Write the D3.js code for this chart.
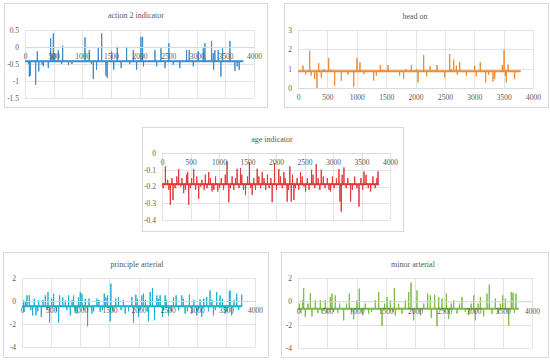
<!DOCTYPE html>
<html>
<head>
<meta charset="utf-8">
<script src="https://cdn.jsdelivr.net/npm/d3@7"></script>
<style>
  body { margin: 0; background: #fff; }
  text { font-family: "Liberation Serif", "DejaVu Serif", serif; fill: #595959; }
</style>
</head>
<body>
<div id="chart"></div>
<script>
// x ticks shared by every panel
const xTicks = [0, 500, 1000, 1500, 2000, 2500, 3000, 3500, 4000];

// action 2 indicator : flat level + spikes [index, value]
const a2Base = -0.42, a2End = 3812;
const a2Ticks = [0.5, 0, -0.5, -1, -1.5];
const a2Spikes = [[60,-0.5],[76,-0.87],[95,-0.84],[186,-1.11],[215,-0.13],[240,-0.72],[300,-0.52],[320,-0.57],
  [407,-0.62],[448,0.26],[470,-0.2],[495,0.4],[520,-0.18],[582,-0.09],[640,-0.5],[658,0.04],[760,-0.53],[820,-0.5],
  [1048,0.28],[1123,-0.09],[1160,-0.5],[1193,-0.94],[1250,-0.67],[1280,0],[1339,0.4],[1414,-0.85],[1436,-0.91],
  [1513,-0.13],[1550,-0.67],[1612,0.01],[1680,-0.62],[1775,0.01],[1830,-0.5],[1891,-0.09],[1950,-0.67],[2025,0.29],
  [2054,0.3],[2070,-0.57],[2270,-0.09],[2300,-0.57],[2375,-0.04],[2445,-0.62],[2514,0.11],[2590,-0.52],[2705,-0.62],
  [2823,-0.09],[2869,-0.09],[2940,-0.57],[3026,-0.13],[3114,-0.04],[3143,0.11],[3259,0.18],[3288,-0.18],[3295,-0.67],
  [3317,-0.09],[3375,-0.09],[3422,-0.87],[3450,-0.04],[3579,0.18],[3666,-0.7],[3707,-0.57],[3742,-0.67]];

// head on
const hoBase = 0.86, hoEnd = 3790;
const hoTicks = [0, 1, 2, 3];
const hoSpikes = [[85,1.16],[130,0.69],[199,1.93],[225,0.64],[284,0.47],[323,0.0],[352,1.28],[397,0.52],[443,0.98],
  [522,1.55],[560,0.95],[624,0.12],[738,0.38],[851,0.69],[948,0.07],[1004,1.55],[1055,1.33],[1120,0.72],[1288,0.38],
  [1333,0.64],[1401,1.19],[1440,0.95],[1532,1.19],[1730,0.64],[1798,0.47],[1833,0.98],[1929,1.19],[2015,0.98],
  [2043,0.29],[2139,1.71],[2190,0.6],[2247,1.12],[2366,1.19],[2497,0.55],[2582,1.76],[2610,0.98],[2650,1.47],
  [2695,1.16],[2712,0.69],[2752,1.33],[2866,0.64],[3007,1.16],[3035,0.6],[3103,1.33],[3194,0.29],[3245,0.69],
  [3319,0.33],[3348,0.47],[3478,1.19],[3507,1.97],[3530,0.64],[3546,0.29],[3575,1.21],[3688,0.47]];

// age indicator
const agBase = -0.186, agEnd = 3807;
const agTicks = [0, -0.1, -0.2, -0.3, -0.4];
const agSpikes = [[20,-0.21],[59,-0.08],[100,-0.16],[120,-0.22],[146,-0.31],[175,-0.15],[193,-0.28],[230,-0.21],
  [260,-0.14],[293,-0.096],[330,-0.2],[350,-0.15],[380,-0.24],[410,-0.22],[430,-0.13],[451,-0.114],[469,-0.31],
  [500,-0.21],[520,-0.15],[556,-0.096],[590,-0.22],[610,-0.14],[644,-0.274],[680,-0.2],[700,-0.16],[740,-0.22],
  [760,-0.13],[790,-0.21],[820,-0.114],[850,-0.15],[879,-0.23],[910,-0.22],[940,-0.14],[978,-0.23],[1010,-0.21],
  [1040,-0.15],[1080,-0.22],[1110,-0.13],[1142,-0.05],[1172,-0.294],[1200,-0.21],[1230,-0.14],[1260,-0.22],
  [1290,-0.15],[1318,-0.094],[1350,-0.21],[1377,-0.09],[1400,-0.13],[1430,-0.22],[1465,-0.25],[1500,-0.14],
  [1535,-0.056],[1560,-0.21],[1582,-0.25],[1610,-0.15],[1640,-0.22],[1670,-0.094],[1700,-0.14],[1730,-0.21],
  [1758,-0.114],[1790,-0.15],[1820,-0.22],[1850,-0.13],[1880,-0.21],[1910,-0.15],[1933,-0.294],[1974,-0.06],
  [2010,-0.22],[2050,-0.096],[2080,-0.14],[2110,-0.21],[2138,-0.114],[2160,-0.15],[2196,-0.29],[2220,-0.22],
  [2243,-0.08],[2267,-0.29],[2290,-0.13],[2314,-0.28],[2340,-0.21],[2370,-0.15],[2400,-0.22],[2431,-0.114],
  [2460,-0.14],[2490,-0.2],[2519,-0.23],[2550,-0.15],[2580,-0.22],[2624,-0.1],[2650,-0.13],[2680,-0.21],
  [2706,-0.066],[2740,-0.15],[2770,-0.22],[2794,-0.1],[2830,-0.14],[2860,-0.21],[2900,-0.15],[2930,-0.22],
  [2958,-0.23],[2990,-0.14],[3020,-0.21],[3060,-0.15],[3104,-0.096],[3122,-0.29],[3145,-0.35],[3160,-0.13],
  [3192,-0.086],[3230,-0.21],[3260,-0.15],[3309,-0.29],[3340,-0.22],[3380,-0.14],[3420,-0.21],[3456,-0.32],
  [3490,-0.15],[3520,-0.22],[3544,-0.11],[3580,-0.13],[3620,-0.21],[3661,-0.23],[3700,-0.14],[3740,-0.21],
  [3770,-0.15],[3790,-0.11]];

// principle arterial
const paBase = -0.46, paEnd = 3771;
const paTicks = [2, 0, -2, -4];
const paSpikes = [[29,0.06],[35,-0.96],[60,-0.1],[86,0.49],[126,0.49],[150,-0.8],[183,-1.25],[210,0.2],[240,-1.25],
  [270,-0.9],[286,0.06],[331,-1.39],[360,0.1],[400,0.49],[430,-0.8],[446,0.78],[474,-1.88],[510,0.2],[543,0.64],
  [590,-0.9],[629,-1.88],[646,0.49],[700,0.3],[743,0.06],[770,-0.8],[800,0.49],[829,-1.25],[860,0.1],[886,0.49],
  [910,-0.9],[943,-1.1],[970,0.3],[1000,0.78],[1029,0.64],[1060,-0.8],[1086,0.2],[1126,-2.2],[1150,0.2],[1200,-1.1],
  [1230,-0.9],[1286,0.2],[1320,0.1],[1343,-0.96],[1380,-0.8],[1412,0.64],[1440,0.3],[1469,0.49],[1515,-1.77],
  [1526,1.51],[1560,-0.9],[1610,0.2],[1657,0.35],[1700,-0.8],[1740,0.1],[1772,-1.1],[1830,-0.9],[1886,0.35],
  [1914,-1.88],[1954,0.55],[1980,0.2],[2000,-1.39],[2030,-0.8],[2057,0.49],[2086,0.64],[2120,0.1],[2150,-0.9],
  [2171,-1.77],[2200,0.78],[2240,1.13],[2274,-1.68],[2314,0.49],[2340,0.2],[2371,0.49],[2411,-1.39],[2430,-0.8],
  [2457,0.49],[2480,0.1],[2514,-1.25],[2560,-0.9],[2600,0.3],[2646,0.49],[2690,-0.8],[2743,0.49],[2770,0.2],
  [2800,-1.1],[2840,-0.9],[2874,0.55],[2914,-1.1],[2950,0.1],[3000,-1.25],[3030,-0.8],[3057,0.14],[3086,-1.39],
  [3120,0.2],[3171,0.35],[3200,-0.9],[3228,0.93],[3260,0.1],[3286,-1.25],[3320,-0.8],[3343,0.78],[3400,0.49],
  [3440,0.2],[3486,-1.1],[3520,-0.9],[3560,0.84],[3571,0.93],[3600,-1.25],[3640,0.1],[3686,0.64],[3720,-0.8],
  [3771,0.55]];

// minor arterial
const maBase = -0.63, maEnd = 3772;
const maTicks = [2, 0, -2, -4];
const maSpikes = [[23,-0.2],[50,-1.0],[80,0.09],[97,1.14],[125,-1.34],[170,-0.2],[211,0.71],[239,-1.29],[296,0.09],
  [340,-1.0],[382,0.09],[410,-1.06],[467,0.09],[500,-1.0],[553,0.37],[581,0.66],[610,-0.9],[638,0.51],[680,-1.0],
  [712,-0.2],[781,-1.63],[830,-0.2],[877,0.66],[920,-0.9],[951,-1.54],[1008,0.09],[1048,1.09],[1105,-1.2],
  [1150,-0.2],[1208,-1.06],[1260,-0.9],[1322,0.09],[1379,0.8],[1436,-2.11],[1480,-0.2],[1522,0.37],[1579,0.09],
  [1620,-0.9],[1647,1.14],[1664,-1.2],[1720,-0.2],[1778,-1.06],[1835,0.09],[1892,0.8],[1932,1.6],[1977,-1.63],
  [2034,0.94],[2091,-1.2],[2150,-0.2],[2217,0.66],[2262,0.51],[2279,-1.43],[2336,0.57],[2376,-2.14],[2405,0.37],
  [2462,0.23],[2500,-0.9],[2536,0.66],[2576,-1.49],[2620,-0.2],[2661,0.09],[2718,-1.06],[2760,-0.2],[2803,0.37],
  [2860,-0.9],[2917,-1.2],[2960,-0.2],[3003,0.51],[3032,-1.63],[3080,-0.2],[3117,0.37],[3174,-1.29],[3231,0.66],
  [3270,1.43],[3316,-1.06],[3373,0.23],[3419,-1.06],[3460,-0.2],[3499,0.51],[3544,0.23],[3601,-2.09],[3646,0.8],
  [3675,0.74],[3700,-1.0],[3726,0.66]];

const width = 550, height = 361;
const svg = d3.select("#chart").append("svg")
  .attr("width", width)
  .attr("height", height)
  .attr("viewBox", [0, 0, width, height]);

// box = panel frame, plot = inner plot rectangle (y0 -> top tick, y1 -> bottom tick)
function drawPanel(opt) {
  const g = svg.append("g");
  g.append("rect")
    .attr("x", opt.box[0] + 0.5).attr("y", opt.box[1] + 0.5)
    .attr("width", opt.box[2]).attr("height", opt.box[3])
    .attr("fill", "#fff").attr("stroke", "#d9d9d9");

  const x = d3.scaleLinear().domain([0, 4000]).range([opt.plot.x0, opt.plot.x1]);
  const y = d3.scaleLinear().domain(d3.extent(opt.yTicks)).range([opt.plot.y1, opt.plot.y0]);

  // gridlines
  g.append("g").selectAll("line.h").data(opt.yTicks).join("line")
    .attr("x1", x(0)).attr("x2", x(4000))
    .attr("y1", d => Math.round(y(d)) + 0.5).attr("y2", d => Math.round(y(d)) + 0.5)
    .attr("stroke", "#e3e3e3");
  g.append("g").selectAll("line.v").data(xTicks).join("line")
    .attr("x1", d => Math.round(x(d)) + 0.5).attr("x2", d => Math.round(x(d)) + 0.5)
    .attr("y1", y.range()[1]).attr("y2", y.range()[0])
    .attr("stroke", "#e3e3e3");

  // y axis labels
  const yAxis = g.append("g")
    .attr("transform", `translate(${opt.plot.x0},0)`)
    .call(d3.axisLeft(y).tickValues(opt.yTicks).tickSize(0).tickPadding(6).tickFormat(d => String(d)));
  yAxis.select(".domain").remove();
  yAxis.selectAll("text").style("font-size", "7.5px").style("font-family", null);

  // series: flat level with spikes
  const pts = [[0, opt.base]];
  opt.spikes.slice().sort((a, b) => a[0] - b[0]).forEach(s => {
    pts.push([s[0] - 3, opt.base], [s[0], s[1]], [s[0] + 3, opt.base]);
  });
  pts.push([opt.end, opt.base]);
  const line = d3.line().x(d => x(d[0])).y(d => y(d[1]));
  // dense small noise makes the level look like a heavier band
  g.append("path")
    .datum([[0, opt.base], [opt.end, opt.base]])
    .attr("fill", "none")
    .attr("stroke", opt.color)
    .attr("stroke-width", 2)
    .attr("d", line);
  g.append("path")
    .datum(pts)
    .attr("fill", "none")
    .attr("stroke", opt.color)
    .attr("stroke-width", 1)
    .attr("stroke-linejoin", "round")
    .attr("d", line);

  // x axis sits on y = 0
  const xAxis = g.append("g")
    .attr("transform", `translate(0,${y(0)})`)
    .call(d3.axisBottom(x).tickValues(xTicks).tickSize(0).tickPadding(7).tickFormat(d3.format("d")));
  xAxis.select(".domain").attr("stroke", "#d9d9d9");
  xAxis.selectAll("text").style("font-size", "7.5px").style("font-family", null);

  g.append("text")
    .attr("x", opt.titleX).attr("y", opt.titleY)
    .attr("text-anchor", "middle")
    .style("font-size", "8px")
    .text(opt.title);
}

drawPanel({ box: [4, 3, 263, 104], plot: { x0: 25, x1: 254, y0: 30, y1: 98 }, titleX: 136, titleY: 18,
  title: "action 2 indicator", yTicks: a2Ticks, base: a2Base, end: a2End, spikes: a2Spikes, color: "#3a8dd0" });
drawPanel({ box: [284, 3, 264, 104], plot: { x0: 298, x1: 533, y0: 30, y1: 88 }, titleX: 415, titleY: 19,
  title: "head on", yTicks: hoTicks, base: hoBase, end: hoEnd, spikes: hoSpikes, color: "#f08a30" });
drawPanel({ box: [142, 127, 261, 104], plot: { x0: 162, x1: 390, y0: 153, y1: 220 }, titleX: 272, titleY: 142,
  title: "age indicator", yTicks: agTicks, base: agBase, end: agEnd, spikes: agSpikes, color: "#e0393b" });
drawPanel({ box: [3, 252, 265, 105], plot: { x0: 22, x1: 255, y0: 278, y1: 347 }, titleX: 137, titleY: 267,
  title: "principle arterial", yTicks: paTicks, base: paBase, end: paEnd, spikes: paSpikes, color: "#1db2d3" });
drawPanel({ box: [281, 252, 267, 105], plot: { x0: 298, x1: 532, y0: 278, y1: 348 }, titleX: 413, titleY: 267,
  title: "minor arterial", yTicks: maTicks, base: maBase, end: maEnd, spikes: maSpikes, color: "#7dbb44" });
</script>
</body>
</html>
